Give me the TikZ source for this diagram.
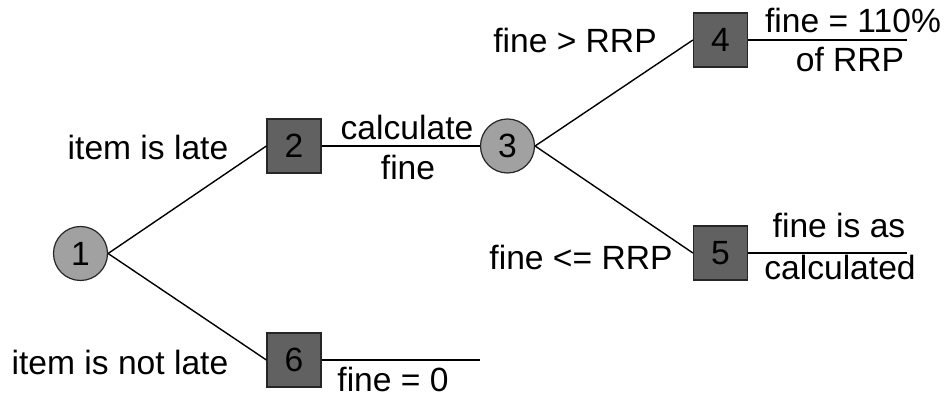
\documentclass[tikz,border=0pt]{standalone}
\usepackage{fontspec}
\setmainfont{Liberation Sans}
\usepackage{tikz}

\begin{document}
\begin{tikzpicture}[x=0.5pt, y=-0.5pt,
    every node/.style={font=\fontsize{16.8}{20}\selectfont},
    branch/.style={line width=0.7pt},
    chance/.style={circle, draw=black!85, line width=0.6pt, fill=black!37, minimum size=27pt, inner sep=0pt},
    outcome/.style={rectangle, draw=black!85, line width=0.6pt, fill=black!62, minimum size=27pt, inner sep=0pt},
    lbl/.style={anchor=base, inner sep=0pt}]
    \useasboundingbox (0,0) rectangle (948,405);
    % tree nodes
    \node[chance]  (n1) at (80.5,253.5) {1};
    \node[outcome] (n2) at (294,146) {2};
    \node[chance]  (n3) at (507.5,146) {3};
    \node[outcome] (n4) at (720.5,40) {4};
    \node[outcome] (n5) at (720.5,253) {5};
    \node[outcome] (n6) at (294,360) {6};
    \coordinate (e4) at (907,40);
    \coordinate (e5) at (907,253);
    \coordinate (e6) at (480,360);
    % branches
    \draw[branch] (n1.east) -- (n2.west);
    \draw[branch] (n1.east) -- (n6.west);
    \draw[branch] (n2.east) -- (n3.west);
    \draw[branch] (n3.east) -- (n4.west);
    \draw[branch] (n3.east) -- (n5.west);
    \draw[branch] (n4.east) -- (e4);
    \draw[branch] (n5.east) -- (e5);
    \draw[branch] (n6.east) -- (e6);
    % labels
    \node[lbl] (late)    at (148,160) {item is late};
    \node[lbl] (notlate) at (120,375) {item is not late};
    \node[lbl] (calc1)   at (407,140) {calculate};
    \node[lbl] (calc2)   at (408,180) {fine};
    \node[lbl] (gt)      at (575,53)  {fine > RRP};
    \node[lbl] (le)      at (581,270) {fine <= RRP};
    \node[lbl] (res4a)   at (853,33)  {fine = 110\%};
    \node[lbl] (res4b)   at (850,72)  {of RRP};
    \node[lbl] (res5a)   at (839,238) {fine is as};
    \node[lbl] (res5b)   at (840,280) {calculated};
    \node[lbl] (res6)    at (393,392) {fine = 0};
\end{tikzpicture}
\end{document}
